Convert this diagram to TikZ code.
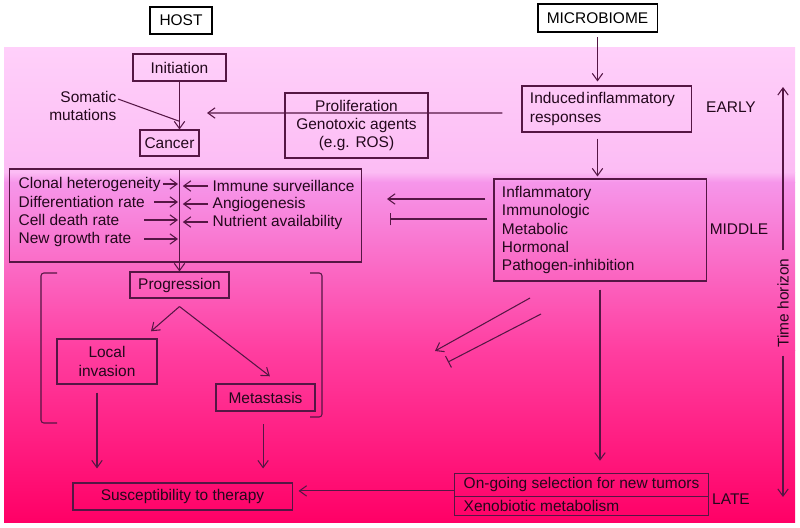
\documentclass[tikz,border=0pt]{standalone}
\usepackage{fontspec}
\setmainfont{Liberation Sans}
\usetikzlibrary{shapes}
\usetikzlibrary{shapes.multipart}
\usetikzlibrary{arrows}
\usetikzlibrary{arrows.meta}
\usetikzlibrary{calc}

\definecolor{linepurple}{RGB}{85,22,68}
\definecolor{inkdark}{RGB}{35,8,28}
\definecolor{pinktop}{RGB}{255,208,250}
\definecolor{pinkearly}{RGB}{252,188,244}
\definecolor{pinkmiddle}{RGB}{246,150,234}
\definecolor{pinkdeep}{RGB}{255,62,160}
\definecolor{pinklate}{RGB}{255,0,102}

\tikzset{
  stagebox/.style={draw=linepurple, line width=0.75pt, text=inkdark, align=center, inner sep=2pt},
  headbox/.style={draw=black, line width=0.75pt, fill=white, text=black, inner sep=3pt},
  item/.style={anchor=west, text=inkdark, inner sep=1pt},
  tag/.style={text=inkdark, inner sep=1pt},
  arr/.style={-{Straight Barb[length=1.8mm, width=2.6mm]}, draw=linepurple, line width=0.75pt},
  blk/.style={-{Bar[width=3.2mm]}, draw=linepurple, line width=0.75pt},
}

\begin{document}
\begin{tikzpicture}[x=0.025cm, y=-0.025cm, font=\fontsize{11}{13}\selectfont]
\useasboundingbox (0,0) rectangle (800,527);

% background bands
\shade[top color=pinktop, bottom color=pinkearly] (4,47) rectangle (795,172);
\shade[top color=pinkearly, bottom color=pinkmiddle] (4,172) rectangle (795,182);
\shade[top color=pinkmiddle, bottom color=pinkdeep] (4,182) rectangle (795,350);
\shade[top color=pinkdeep, bottom color=pinklate] (4,350) rectangle (795,522);

\node[headbox, minimum width=1.55cm, minimum height=0.675cm] (host) at (181,20.5) {HOST};
\node[headbox, minimum width=2.975cm, minimum height=0.7cm] (microbiome) at (597.5,18) {MICROBIOME};

% early
\node[stagebox, minimum width=2.325cm, minimum height=0.675cm] (initiation) at (179.5,67.5) {Initiation};
\node[stagebox, minimum width=1.475cm, minimum height=0.65cm] (cancer) at (169.5,143) {Cancer};
\node[tag, align=right, anchor=east] (somatic) at (118,106) {Somatic\\mutations};
\node[stagebox, minimum width=3.575cm, minimum height=1.625cm] (prolif) at (356.5,125.5)
  {Proliferation\\Genotoxic agents\\(e.g. ROS)};
\node[stagebox, align=left, text width=3.825cm, inner xsep=0.2cm, minimum height=1.15cm] (induced) at (606.5,109)
  {Induced\kern1pt inflammatory\\responses};
\node[tag] (early) at (731,107) {EARLY};

% middle
\node[stagebox, minimum width=8.775cm, minimum height=2.325cm] (factors) at (185.5,215.5) {};
\node[item] (clonal) at (17,184) {Clonal heterogeneity};
\node[item] (diff) at (17,202) {Differentiation rate};
\node[item] (death) at (17,220) {Cell death rate};
\node[item] (growth) at (17,239) {New growth rate};
\node[item] (immune) at (211,186) {Immune surveillance};
\node[item] (angio) at (211,204) {Angiogenesis};
\node[item] (nutrient) at (211,222) {Nutrient availability};
\node[stagebox, align=left, text width=4.9cm, inner xsep=0.2cm, minimum height=2.55cm] (middle) at (600,230)
  {Inflammatory\\Immunologic\\Metabolic\\Hormonal\\Pathogen-inhibition};
\node[tag] (middletag) at (739,229) {MIDDLE};

% late
\node[stagebox, minimum width=2.475cm, minimum height=0.65cm] (progression) at (179.5,285) {Progression};
\node[stagebox, minimum width=2.5cm, minimum height=1.125cm] (local) at (107,361.5) {Local\\invasion};
\node[stagebox, minimum width=2.475cm, minimum height=0.675cm] (metastasis) at (265.5,397.5) {Metastasis};
\node[stagebox, minimum width=5.475cm, minimum height=0.675cm] (susc) at (182.5,496.5) {Susceptibility to therapy};
\node[draw=linepurple, line width=0.75pt, text=inkdark,
   rectangle split,
   rectangle split parts=2,
   rectangle split part align=left,
   inner xsep=0.22cm, inner ysep=2.6pt,
   minimum width=6.325cm] (ongoing) at (581.5,494.5)
  {On-going selection for new tumors
     \nodepart{second} Xenobiotic metabolism};
\node[tag] (late) at (731,499) {LATE};

\node[tag, rotate=90, inner xsep=0.2cm] (horizon) at (783,303) {Time horizon};

\coordinate (spine) at (180,0);
\coordinate (lstart) at (144,0);
\coordinate (tocancer) at (207,113);
\coordinate (promote) at (387,199);
\coordinate (inhibit) at (390,219);
\coordinate (diagA) at (530,298);
\coordinate (diagAend) at (435,351);
\coordinate (diagB) at (541,314);
\coordinate (diagBend) at (448,362);
\coordinate (timetop) at (784,87);
\coordinate (timebottom) at (784,497);

% connectors
\draw[arr, shorten <=0.12cm, shorten >=0.1cm] (microbiome.south) -- (microbiome.south |- induced.north);
\draw[arr, shorten <=0.15cm, shorten >=0.05cm] (microbiome.south |- induced.south) -- (microbiome.south |- middle.north);
\draw[arr] ([xshift=-0.48cm, yshift=-0.1cm]induced.west) -- (tocancer);
\draw[arr] (initiation.south) -- coordinate[pos=0.83] (meet) (initiation.south |- cancer.north);
\draw[draw=linepurple, line width=0.75pt] ($(somatic.east)+(0,-7)$) -- (meet);

\draw[arr] (progression.north |- factors.north) -- (progression.north);
\draw[arr] ([xshift=0.03cm]clonal.east) -- ([xshift=-0.05cm]clonal.east -| spine);
\draw[arr] ([xshift=0.2cm]diff.east) -- ([xshift=-0.05cm]diff.east -| spine);
\draw[arr] (lstart |- death.east) -- ([xshift=-0.05cm]death.east -| spine);
\draw[arr] (lstart |- growth.east) -- ([xshift=-0.05cm]growth.east -| spine);
\draw[arr] ([xshift=-0.07cm]immune.west) -- ([xshift=0.07cm]immune.west -| spine);
\draw[arr] ([xshift=-0.07cm]angio.west) -- ([xshift=0.07cm]angio.west -| spine);
\draw[arr] ([xshift=-0.07cm]nutrient.west) -- ([xshift=0.07cm]nutrient.west -| spine);

\draw[arr] ([xshift=-0.2cm]middle.west |- promote) -- (promote);
\draw[blk] ([xshift=-0.15cm]middle.west |- inhibit) -- (inhibit);
\draw[arr] (diagA) -- (diagAend);
\draw[blk] (diagB) -- (diagBend);
\draw[arr, shorten <=0.2cm, shorten >=0.3cm] (middle.south) -- (middle.south |- ongoing.north);

\draw[arr] ([yshift=-0.2cm]progression.south) -- ([xshift=1.1cm, yshift=0.18cm]local.north);
\draw[arr] ([yshift=-0.2cm]progression.south) -- ([xshift=0.11cm, yshift=0.18cm]metastasis.north);
\draw[draw=linepurple, line width=0.75pt, rounded corners=2pt] (57,273) -- (41,273) -- (41,423) -- (57,423);
\draw[draw=linepurple, line width=0.75pt, rounded corners=2pt] (310,273) -- (322,273) -- (322,417) -- (310,417);
\draw[arr, shorten <=0.2cm, shorten >=0.35cm] ([xshift=-0.25cm]local.south) -- ([xshift=-0.25cm]local.south |- susc.north);
\draw[arr, shorten <=0.32cm, shorten >=0.35cm] ([xshift=-0.06cm]metastasis.south) -- ([xshift=-0.06cm]metastasis.south |- susc.north);
\draw[arr, shorten >=0.15cm] ([yshift=0.09cm]ongoing.west) -- ([yshift=0.09cm]ongoing.west -| susc.east);

\draw[arr] (horizon.east) -- (horizon.east |- timetop);
\draw[arr] (horizon.west) -- (horizon.west |- timebottom);
\end{tikzpicture}
\end{document}
